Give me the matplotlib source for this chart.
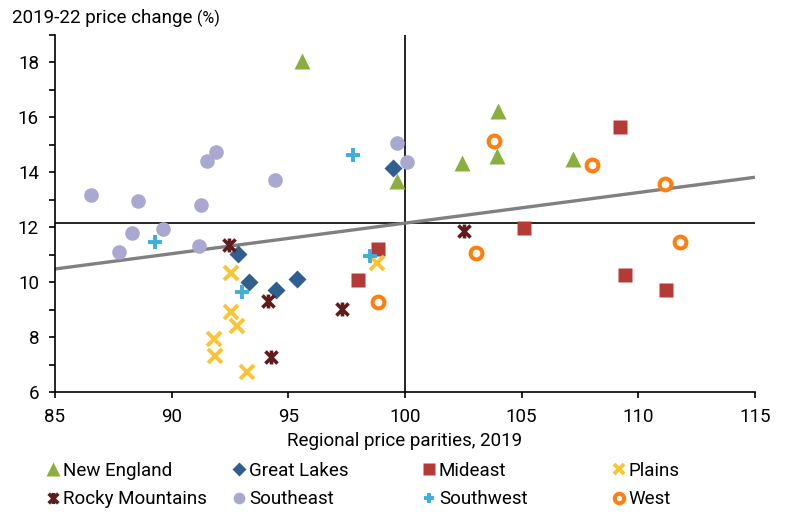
import matplotlib
matplotlib.use("Agg")
import matplotlib.pyplot as plt
from matplotlib.path import Path
from matplotlib.ticker import MultipleLocator
from matplotlib.lines import Line2D

plt.rcParams['font.family'] = ['Roboto', 'DejaVu Sans']

# regional price parities (x) and 2019-22 price change (y), by region
new_england_x = [95.6, 104.0, 103.95, 102.45, 107.2, 99.66]
new_england_y = [18.07, 16.25, 14.6, 14.35, 14.5, 13.7]

great_lakes_x = [99.5, 92.84, 93.3, 94.47, 95.37]
great_lakes_y = [14.17, 11.03, 10.0, 9.72, 10.12]

mideast_x = [109.22, 105.1, 109.43, 111.19, 98.84, 97.99]
mideast_y = [15.66, 11.98, 10.27, 9.72, 11.22, 10.08]

plains_x = [92.54, 92.54, 92.8, 91.8, 91.86, 93.23, 98.8]
plains_y = [10.34, 8.92, 8.41, 7.93, 7.31, 6.73, 10.7]

rocky_x = [92.46, 94.13, 94.26, 97.3, 102.53]
rocky_y = [11.36, 9.32, 7.28, 9.03, 11.87]

southeast_x = [86.54, 88.56, 91.52, 91.9, 94.43, 91.26, 88.3, 89.63, 91.17, 87.74, 99.66, 100.09]
southeast_y = [13.18, 12.97, 14.42, 14.75, 13.73, 12.82, 11.8, 11.94, 11.32, 11.1, 15.08, 14.39]

southwest_x = [89.29, 93.0, 97.77, 98.5]
southwest_y = [11.47, 9.65, 14.64, 10.96]

west_x = [103.82, 108.02, 111.15, 111.79, 103.05, 98.84]
west_y = [15.15, 14.28, 13.59, 11.47, 11.07, 9.28]

# trend line end points, average lines
trend_x = [85, 115]
trend_y = [10.48, 13.82]
avg_x = 100
avg_y = 12.15

# asterisk-like marker (x with a vertical bar)
star = Path([(-1, -1), (1, 1), (-1, 1), (1, -1), (0, -1.15), (0, 1.15)],
            [Path.MOVETO, Path.LINETO, Path.MOVETO, Path.LINETO, Path.MOVETO, Path.LINETO])

fig = plt.figure(figsize=(7.86, 5.14), dpi=100)
ax = fig.add_axes([55 / 786, 122 / 514, 700 / 786, 357 / 514])

ax.axhline(avg_y, color='black', lw=1.2, zorder=1)
ax.axvline(avg_x, color='black', lw=1.2, zorder=1)
ax.plot(trend_x, trend_y, color='#808080', lw=2.4, zorder=2, solid_capstyle='butt')

series = [
    ('New England', new_england_x, new_england_y,
     dict(marker='^', ms=12, color='#8cae3f', mec='none')),
    ('Great Lakes', great_lakes_x, great_lakes_y,
     dict(marker='D', ms=8.7, color='#2e5f8e', mec='none')),
    ('Mideast', mideast_x, mideast_y,
     dict(marker='s', ms=10, color='#b43a36', mec='none')),
    ('Plains', plains_x, plains_y,
     dict(marker='x', ms=9.5, color='#fbc433', mew=2.8)),
    ('Rocky Mountains', rocky_x, rocky_y,
     dict(marker=star, ms=10, color='#5e1c1c', mew=2.6)),
    ('Southeast', southeast_x, southeast_y,
     dict(marker='o', ms=10.5, color='#a9a8d0', mec='none')),
    ('Southwest', southwest_x, southwest_y,
     dict(marker='+', ms=9.5, color='#3eaedb', mew=2.8)),
    ('West', west_x, west_y,
     dict(marker='o', ms=8.5, color='#ff7f0e', mfc='white', mec='#ff7f0e', mew=2.9)),
]

handles = {}
for name, xs, ys, style in series:
    ax.plot(xs, ys, ls='none', zorder=3, **style)
    handles[name] = Line2D([], [], ls='none', **style)

ax.set_xlim(85, 115)
ax.set_ylim(6, 19)
ax.xaxis.set_major_locator(MultipleLocator(5))
ax.yaxis.set_major_locator(MultipleLocator(2))
ax.yaxis.set_minor_locator(MultipleLocator(1))

for s in ['top', 'right']:
    ax.spines[s].set_visible(False)
for s in ['left', 'bottom']:
    ax.spines[s].set_linewidth(1.2)

ax.tick_params(which='both', direction='out', length=4.5, width=1.2, labelsize=13.5, colors='black')
ax.tick_params(axis='x', pad=7)
ax.tick_params(axis='y', pad=7)

fig.text(12 / 786, 1 - 23 / 514, '2019-22 price change', fontsize=13.5, va='baseline', ha='left')
fig.text(197 / 786, 1 - 23 / 514, '(%)', fontsize=11.5, va='baseline', ha='left')
fig.text(405 / 786, 1 - 446 / 514, 'Regional price parities, 2019', fontsize=13.5,
         va='baseline', ha='center')

# legend: four columns at fixed spacing, two entries each
columns = [['New England', 'Rocky Mountains'], ['Great Lakes', 'Southeast'],
           ['Mideast', 'Southwest'], ['Plains', 'West']]
col_x = [45, 231, 421, 611]
for names, x0 in zip(columns, col_x):
    leg = fig.legend([handles[n] for n in names], names,
                     loc='upper left', bbox_to_anchor=(x0 / 786, 1 - 462 / 514),
                     frameon=False, fontsize=13.5, markerscale=0.8,
                     handlelength=0.8, handletextpad=0.15, borderpad=0,
                     borderaxespad=0, labelspacing=0.55)

fig.savefig('out.png', dpi=100)
